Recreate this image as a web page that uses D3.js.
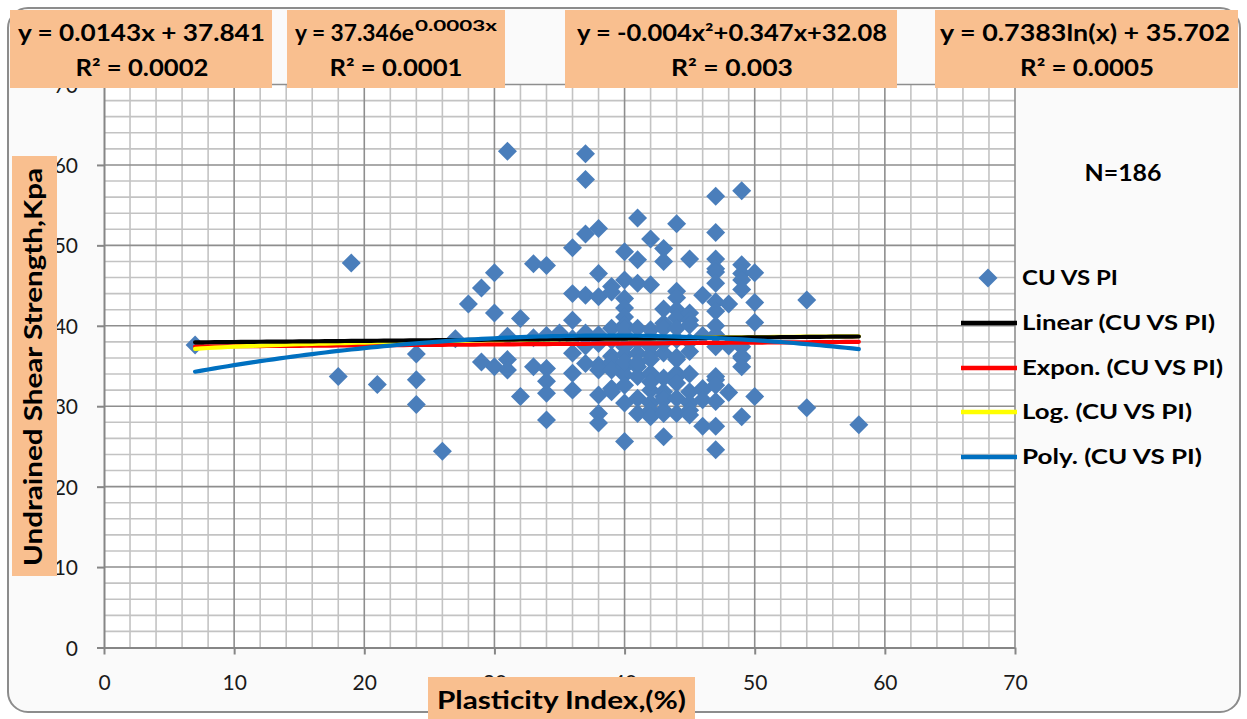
<!DOCTYPE html>
<html><head><meta charset="utf-8">
<script src="https://cdn.jsdelivr.net/npm/d3@7"></script>
<style>body{margin:0;background:#fff}</style>
</head><body>
<svg id="c" width="1247" height="719"></svg>
<script>
// ---------- data ----------
const xTicks = [0, 10, 20, 30, 40, 50, 60, 70];
const yTicks = [0, 10, 20, 30, 40, 50, 60, 70];

const piValues = [
  7,
  18,
  19,
  21,
  24, 24, 24,
  26,
  27,
  28,
  29, 29,
  30, 30, 30,
  31, 31, 31, 31,
  32, 32,
  33, 33, 33,
  34, 34, 34, 34, 34, 34,
  35,
  36, 36, 36, 36, 36, 36, 36,
  37, 37, 37, 37, 37, 37, 37,
  38, 38, 38, 38, 38, 38, 38, 38, 38, 38,
  39, 39, 39, 39, 39, 39, 39, 39, 39,
  40, 40, 40, 40, 40, 40, 40, 40, 40, 40, 40, 40, 40, 40, 40, 40,
  41, 41, 41, 41, 41, 41, 41, 41, 41, 41, 41,
  42, 42, 42, 42, 42, 42, 42, 42, 42, 42, 42, 42, 42,
  43, 43, 43, 43, 43, 43, 43, 43, 43, 43, 43, 43, 43, 43,
  44, 44, 44, 44, 44, 44, 44, 44, 44, 44, 44, 44, 44, 44,
  45, 45, 45, 45, 45, 45, 45, 45, 45, 45, 45,
  46, 46, 46, 46, 46, 46,
  47, 47, 47, 47, 47, 47, 47, 47, 47, 47, 47, 47, 47, 47, 47, 47, 47,
  48, 48, 48,
  49, 49, 49, 49, 49, 49, 49, 49, 49, 49,
  50, 50, 50, 50,
  54, 54,
  58
];
const cuValues = [
  37.6,
  33.7,
  47.8,
  32.7,
  36.5, 33.3, 30.2,
  24.4,
  38.4,
  42.7,
  44.7, 35.5,
  46.6, 41.6, 34.9,
  61.7, 38.7, 35.8, 34.5,
  40.9, 31.2,
  47.7, 34.9, 38.5,
  47.5, 34.7, 33.1, 31.6, 28.3, 38.8,
  39.1,
  49.7, 44.0, 40.7, 36.6, 34.1, 32.0, 38.4,
  61.4, 58.2, 51.4, 43.8, 39.1, 35.3, 37.5,
  52.1, 46.5, 43.6, 38.9, 35.1, 34.5, 31.4, 29.1, 27.9, 37.8,
  44.9, 44.2, 39.7, 36.2, 35.5, 34.5, 32.2, 31.8, 38.2,
  49.2, 45.7, 43.4, 42.2, 41.1, 40.1, 38.9, 37.4, 36.4, 34.9, 33.9, 32.6, 30.4, 25.6, 39.6, 35.5,
  53.4, 48.2, 45.3, 39.7, 36.6, 34.9, 33.7, 31.0, 29.1, 38.0, 35.4,
  50.8, 45.1, 39.5, 37.4, 36.4, 35.8, 34.1, 32.0, 30.4, 29.5, 28.7, 38.6, 33.0,
  49.6, 48.0, 42.1, 40.3, 39.7, 36.6, 31.8, 31.2, 30.8, 29.5, 29.1, 26.2, 37.9, 33.5,
  52.7, 44.3, 43.5, 42.0, 41.0, 39.7, 36.1, 35.8, 34.1, 33.7, 32.9, 29.1, 38.3, 31.0,
  48.3, 41.6, 40.7, 40.1, 36.8, 31.8, 30.4, 29.5, 28.9, 38.0, 34.0,
  43.8, 32.2, 32.0, 30.8, 27.5, 38.8,
  56.1, 51.6, 48.3, 47.1, 46.7, 45.3, 43.0, 41.8, 38.9, 37.4, 33.7, 33.3, 32.6, 30.6, 27.5, 24.6, 40.0,
  42.7, 37.5, 31.7,
  56.8, 47.6, 46.5, 45.7, 44.5, 37.4, 36.2, 36.0, 34.9, 28.7,
  46.6, 42.9, 40.4, 31.2,
  43.2, 29.8,
  27.7
];

const seriesName = "CU VS PI";
const trendNames = ["Linear (CU VS PI)", "Expon. (CU VS PI)", "Log. (CU VS PI)", "Poly. (CU VS PI)"];
const linearCoef = [0.0143, 37.841];
const expCoef = [37.346, 0.0003];
const logCoef = [0.7383, 35.702];
const polyCoef = [-0.00449, 0.347, 32.08];
const trendRange = [7, 58];

const eqLine1 = ["y = 0.0143x + 37.841", "y = 37.346e", "y = -0.004x²+0.347x+32.08", "y = 0.7383ln(x) + 35.702"];
const expSuper = "0.0003x";
const eqLine2 = ["R² = 0.0002", "R² = 0.0001", "R² = 0.003", "R² = 0.0005"];
const nLabel = "N=186";
const xTitle = "Plasticity Index,(%)";
const yTitle = "Undrained Shear Strength,Kpa";

// ---------- drawing ----------
const FONT = "Lato, 'Open Sans', 'DejaVu Sans', sans-serif";
const ORANGE = "#f9bf8f";
const svg = d3.select("#c");
const x = d3.scaleLinear().domain([0, 70]).range([104, 1015]);
const y = d3.scaleLinear().domain([0, 70]).range([647.5, 84.5]);

// outer chart frame
svg.append("rect").attr("x", 8).attr("y", 8).attr("width", 1232).attr("height", 704)
  .attr("rx", 20).attr("fill", "#fafafa").attr("stroke", "#8c8c8c").attr("stroke-width", 2);

// plot area
svg.append("rect").attr("x", x(0)).attr("y", y(70)).attr("width", x(70) - x(0)).attr("height", y(0) - y(70))
  .attr("fill", "#ffffff");

// grid
const grid = svg.append("g");
const minorVals = d3.range(2, 70, 2).filter(v => v % 10 !== 0);
const majorVals = d3.range(10, 71, 10);
grid.selectAll(".vmin").data(minorVals).join("line")
  .attr("x1", d => x(d)).attr("x2", d => x(d)).attr("y1", y(0)).attr("y2", y(70))
  .attr("stroke", "#c3c3c3").attr("stroke-width", 1.6);
grid.selectAll(".hmin").data(minorVals).join("line")
  .attr("y1", d => y(d)).attr("y2", d => y(d)).attr("x1", x(0)).attr("x2", x(70))
  .attr("stroke", "#c3c3c3").attr("stroke-width", 1.6);
grid.selectAll(".vmaj").data(majorVals).join("line")
  .attr("x1", d => x(d)).attr("x2", d => x(d)).attr("y1", y(0)).attr("y2", y(70))
  .attr("stroke", "#8e8e8e").attr("stroke-width", 1.6);
grid.selectAll(".hmaj").data(majorVals).join("line")
  .attr("y1", d => y(d)).attr("y2", d => y(d)).attr("x1", x(0)).attr("x2", x(70))
  .attr("stroke", "#8e8e8e").attr("stroke-width", 1.6);

// axes
function styleAxis(g) {
  g.select(".domain").attr("stroke", "#868686").attr("stroke-width", 2);
  g.selectAll(".tick line").attr("stroke", "#868686").attr("stroke-width", 2);
  g.selectAll(".tick text").attr("font-family", FONT).attr("font-size", 21).attr("fill", "#1a1a1a");
}
const gx = svg.append("g").attr("transform", `translate(0,${y(0)})`)
  .call(d3.axisBottom(x).tickValues(xTicks).tickSize(7).tickSizeOuter(0));
styleAxis(gx);
gx.selectAll(".tick text").attr("y", 42).attr("dy", "0");
const gy = svg.append("g").attr("transform", `translate(${x(0)},0)`)
  .call(d3.axisLeft(y).tickValues(yTicks).tickSize(7).tickSizeOuter(0));
styleAxis(gy);
gy.selectAll(".tick text").attr("x", -26).attr("dy", "0.36em");

// scatter points
const diamond = d3.symbol().type(d3.symbolSquare).size(180);
svg.append("g").selectAll("path").data(d3.range(piValues.length)).join("path")
  .attr("d", diamond)
  .attr("transform", i => `translate(${x(piValues[i])},${y(cuValues[i])}) rotate(45)`)
  .attr("fill", "#4a7ebb");

// trendlines
const trendFns = [
  v => linearCoef[0] * v + linearCoef[1],
  v => expCoef[0] * Math.exp(expCoef[1] * v),
  v => logCoef[0] * Math.log(v) + logCoef[1],
  v => polyCoef[0] * v * v + polyCoef[1] * v + polyCoef[2]
];
const trendColors = ["#000000", "#ff0000", "#ffff00", "#0070c0"];
const drawOrder = [1, 2, 0, 3];
const xs = d3.range(trendRange[0], trendRange[1] + 0.001, 0.5);
drawOrder.forEach(k => {
  svg.append("path")
    .attr("d", d3.line().x(v => x(v)).y(v => y(trendFns[k](v)))(xs))
    .attr("fill", "none").attr("stroke", trendColors[k]).attr("stroke-width", 4.2)
    .attr("stroke-linecap", "round");
});

// legend
const legY = [278, 323, 368, 412, 457];
const legWidths = [96, 193, 201, 170, 180];
svg.append("path").attr("d", diamond).attr("transform", `translate(988,${legY[0]}) rotate(45)`).attr("fill", "#4a7ebb");
trendNames.forEach((n, k) => {
  svg.append("line").attr("x1", 961).attr("x2", 1017).attr("y1", legY[k + 1]).attr("y2", legY[k + 1])
    .attr("stroke", trendColors[k]).attr("stroke-width", 4.5);
});
[seriesName].concat(trendNames).forEach((n, k) => {
  svg.append("text").attr("x", 1022).attr("y", legY[k] + 7)
    .attr("font-family", FONT).attr("font-weight", "bold").attr("font-size", 21)
    .attr("textLength", legWidths[k]).attr("lengthAdjust", "spacingAndGlyphs")
    .attr("fill", "#000").text(n);
});

// N label
svg.append("text").attr("x", 1123).attr("y", 181).attr("text-anchor", "middle")
  .attr("font-family", FONT).attr("font-weight", "bold").attr("font-size", 22)
  .attr("textLength", 77).attr("lengthAdjust", "spacingAndGlyphs").text(nLabel);

// equation boxes
const boxes = [[10, 272], [287, 505], [565, 897], [935, 1238]];
boxes.forEach(b => {
  svg.append("rect").attr("x", b[0]).attr("y", 10).attr("width", b[1] - b[0]).attr("height", 78).attr("fill", ORANGE);
});
function boldText(t, xx, yy, w, anchor, size) {
  return svg.append("text").attr("x", xx).attr("y", yy).attr("text-anchor", anchor || "start")
    .attr("font-family", FONT).attr("font-weight", "bold").attr("font-size", size || 22)
    .attr("textLength", w).attr("lengthAdjust", "spacingAndGlyphs").attr("fill", "#000").text(t);
}
boldText(eqLine1[0], 18, 41, 247);
boldText(eqLine1[1], 295, 41, 119);
boldText(expSuper, 415, 31, 82, "start", 15);
boldText(eqLine1[2], 577, 41, 310);
boldText(eqLine1[3], 940, 41, 290);
boldText(eqLine2[0], 142, 76, 133, "middle");
boldText(eqLine2[1], 396, 76, 133, "middle");
boldText(eqLine2[2], 732, 76, 122, "middle");
boldText(eqLine2[3], 1087, 76, 134, "middle");

// axis titles
svg.append("rect").attr("x", 12).attr("y", 156).attr("width", 45).attr("height", 420).attr("fill", ORANGE);
svg.append("text").attr("transform", "translate(42,367) rotate(-90)").attr("text-anchor", "middle")
  .attr("font-family", FONT).attr("font-weight", "bold").attr("font-size", 24)
  .attr("textLength", 398).attr("lengthAdjust", "spacingAndGlyphs").text(yTitle);
svg.append("rect").attr("x", 428).attr("y", 677).attr("width", 267).attr("height", 45).attr("fill", ORANGE);
boldText(xTitle, 561.5, 709, 249, "middle", 24);
</script>
</body></html>
